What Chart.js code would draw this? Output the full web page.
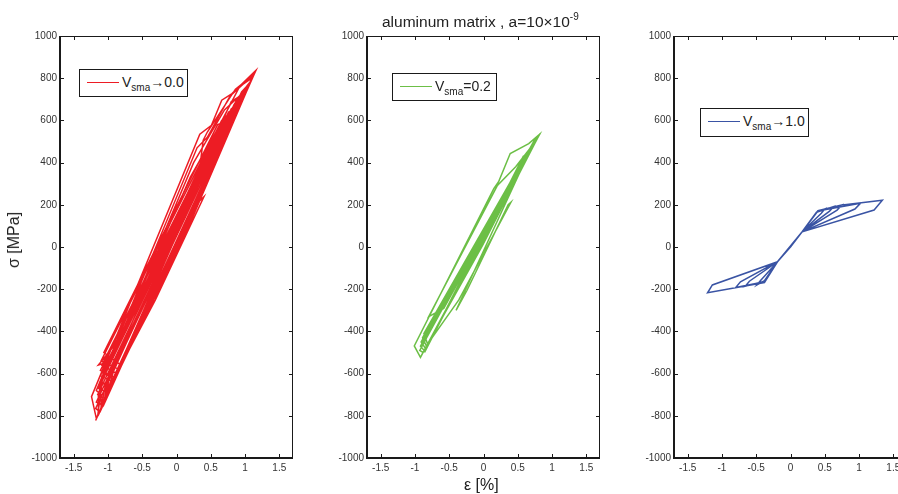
<!DOCTYPE html>
<html>
<head>
<meta charset="utf-8">
<script src="https://cdn.jsdelivr.net/npm/chart.js@4.4.1/dist/chart.umd.min.js"></script>
<style>
  html, body { margin:0; padding:0; background:#fff; }
  body { width:898px; height:494px; overflow:hidden; position:relative; font-family:"Liberation Sans", Arial, sans-serif; color:#222; }
  .panel { position:absolute; top:0; width:300px; height:494px; }
  .lgd { position:absolute; border:1px solid #1a1a1a; background:#fff; font-size:14px; box-sizing:border-box; white-space:nowrap; }
  .lgd .ln { position:absolute; left:7px; top:12px; width:32px; border-top:1.5px solid; }
  .lgd .tx { position:absolute; left:42px; top:4px; }
  .lgd sub { font-size:10px; vertical-align:-4px; }
  .ttl { position:absolute; font-size:15.5px; white-space:nowrap; }
  .ttl sup { font-size:10px; vertical-align:7px; }
  .axl { position:absolute; font-size:16px; white-space:nowrap; }
</style>
</head>
<body>
<div class="panel" style="left:0px"><canvas id="c1" width="300" height="494"></canvas></div>
<div class="panel" style="left:307px"><canvas id="c2" width="300" height="494"></canvas></div>
<div class="panel" style="left:614px"><canvas id="c3" width="300" height="494"></canvas></div>

<div class="ttl" style="left:382px; top:11px">aluminum matrix , a=10&times;10<sup>-9</sup></div>
<div class="axl" style="left:464px; top:476px">&epsilon; [%]</div>
<div class="axl" style="left:14px; top:240px; transform:translate(-50%,-50%) rotate(-90deg)">&sigma; [MPa]</div>

<div class="lgd" style="left:79px; top:69px; width:109px; height:28px"><span class="ln" style="border-color:#ed1c24"></span><span class="tx">V<sub>sma</sub>&rarr;0.0</span></div>
<div class="lgd" style="left:392px; top:73px; width:105px; height:28px"><span class="ln" style="border-color:#6cbf46"></span><span class="tx">V<sub>sma</sub>=0.2</span></div>
<div class="lgd" style="left:700px; top:108px; width:109px; height:29px"><span class="ln" style="border-color:#3a54a4"></span><span class="tx">V<sub>sma</sub>&rarr;1.0</span></div>

<script>
// axis ticks shared by the three panels
var xTicks = [-1.5, -1, -0.5, 0, 0.5, 1, 1.5];
var yTicks = [-1000, -800, -600, -400, -200, 0, 200, 400, 600, 800, 1000];

// V_sma -> 0.0  (strain %, stress MPa)
var redStrain = [-1.18, 1.16, 0.81, 0.66, 0.51, 0.34, -1.24, -1.17,
  1.13, 0.86, 0.45, 0.39, 0.34, -0.70, -0.92, -1.14, -1.05, -1.15,
  1.10, 0.92, 0.60, -1.09, -1.14, -1.14,
  0.02, 1.094, 1.03, -1.18, -1.121,
  1.12, 0.78, 0.45, 0.30, -1.17, -1.10, -1.10,
  1.03, 0.70, 0.25, -1.10, -1.02, -1.05,
  0.99, 0.60, 0.20, -1.05, -0.98, -1.02,
  0.05, 1.065, 0.98, -1.17, -1.078,
  0.03, 1.037, 0.93, -1.15, -1.036,
  0.06, 1.008, 0.89, -1.14, -0.994,
  0.02, 0.98, 0.85, -1.12, -0.952,
  0.07, 0.952, 0.80, -1.11, -0.923,
  0.04, 0.924, 0.76, -1.11, -0.895,
  0.08, 0.896, 0.72, -1.09, -0.867,
  0.05, 0.868, 0.66, -1.10, -0.839,
  0.03, 0.840, 0.60, -1.06, -0.810,
  -0.31, 0.40, 0.30, -0.62, -1.08,
  1.05, 0.95, -1.04, -1.11,
  1.00, 0.80, 0.28, -0.98, -1.06,
  0.98, -0.95, -1.04,
  0.96, 0.88, -0.92, -1.02,
  0.93, 0.84, -0.90, -1.00, 0.90];
var redStress = [-822, 837, 727, 696, 577, 535, -709, -812,
  818, 748, 545, 506, 380, -346, -472, -559, -550, -800,
  800, 760, 560, -640, -700, -790,
  0, 790, 765, -765, -780,
  815, 715, 520, 470, -680, -700, -770,
  750, 650, 400, -640, -650, -740,
  725, 560, 330, -600, -610, -700,
  0, 770, 745, -735, -750,
  10, 750, 720, -700, -720,
  20, 730, 700, -670, -690,
  -10, 710, 680, -640, -660,
  40, 690, 655, -610, -640,
  0, 670, 640, -585, -620,
  60, 650, 620, -560, -600,
  30, 630, 600, -540, -580,
  0, 610, 580, -500, -560,
  -252, 238, 206, -430, -740,
  770, 735, -660, -775,
  730, 690, 320, -600, -735,
  720, -640, -720,
  710, 700, -590, -700,
  690, 675, -610, -690, 670];

// V_sma = 0.2
var greenStrain = [-0.92, 0.82, 0.66, 0.39, 0.22, 0.15, -1.01, -0.92,
  0.78, 0.47, 0.20, -0.80, -0.58, 0.74,
  0.795, 0.74, -0.93, -0.882,
  -0.03, 0.763, 0.70, -0.92, -0.866,
  -0.02, 0.730, 0.66, -0.91, -0.849,
  -0.04, 0.697, 0.62, -0.89, -0.833,
  -0.01, 0.664, 0.58, -0.87, -0.816,
  -0.36, 0.40, 0.36, -0.24, -0.40,
  0.66, 0.58, -0.84, -0.86, 0.62];
var greenStress = [-523, 535, 490, 443, 309, 277, -469, -523,
  510, 380, 290, -330, -291, 490,
  520, 505, -490, -500,
  0, 500, 480, -470, -490,
  10, 480, 460, -450, -480,
  0, 460, 440, -430, -470,
  10, 440, 415, -410, -460,
  -251, 212, 200, -205, -300,
  445, 430, -485, -500, 440];

// V_sma -> 1.0
var blueStrain = [0, 0.17, 0.38, 0.50, 0.45, 0.17, -0.19, -0.38, -0.49, -0.44, -0.19,
  0.17, 0.38, 0.63, 0.57, 0.17, -0.19, -0.38, -0.66, -0.60, -0.19,
  0.17, 0.39, 0.75, 0.68, 0.17, -0.19, -0.38, -0.80, -0.73, -0.19,
  0.17, 0.40, 1.02, 0.94, 0.17, -0.19, -0.38, -1.21, -1.14, -0.19,
  0.17, 0.40, 0.73, 1.34, 1.22, 0.17, -0.19, 0];
var blueStress = [0, 72, 165, 180, 160, 72, -70, -160, -180, -160, -70,
  72, 165, 192, 170, 72, -70, -162, -186, -162, -70,
  72, 168, 199, 175, 72, -70, -165, -192, -165, -70,
  72, 170, 207, 180, 72, -70, -168, -217, -180, -70,
  72, 172, 198, 222, 175, 72, -70, 0];

function pts(xs, ys) {
  return xs.map(function(x, i) { return {x: x, y: ys[i]}; });
}

var tickFont = {family: "'Liberation Sans', Arial, sans-serif", size: 10};

// matlab style box with inward ticks
var boxPlugin = {
  id: 'box',
  afterDraw: function(chart) {
    var ctx = chart.ctx, a = chart.chartArea;
    var sx = chart.scales.x, sy = chart.scales.y;
    ctx.save();
    ctx.strokeStyle = '#1a1a1a';
    ctx.lineWidth = 1;
    ctx.beginPath();
    ctx.moveTo(a.left, a.top + 0.5); ctx.lineTo(a.right, a.top + 0.5);
    ctx.moveTo(a.right - 0.5, a.top); ctx.lineTo(a.right - 0.5, a.bottom);
    xTicks.forEach(function(v) {
      var p = Math.round(sx.getPixelForValue(v)) + 0.5;
      ctx.moveTo(p, a.bottom); ctx.lineTo(p, a.bottom - 4);
      ctx.moveTo(p, a.top); ctx.lineTo(p, a.top + 4);
    });
    yTicks.forEach(function(v) {
      var p = Math.round(sy.getPixelForValue(v)) + 0.5;
      ctx.moveTo(a.left, p); ctx.lineTo(a.left + 4, p);
      ctx.moveTo(a.right, p); ctx.lineTo(a.right - 4, p);
    });
    ctx.stroke();
    ctx.lineWidth = 2;
    ctx.beginPath();
    ctx.moveTo(a.left, a.top); ctx.lineTo(a.left, a.bottom); ctx.lineTo(a.right, a.bottom);
    ctx.stroke();
    ctx.restore();
  }
};

function makeChart(id, data, color) {
  return new Chart(document.getElementById(id).getContext('2d'), {
    type: 'scatter',
    data: {datasets: [{data: data, showLine: true, borderColor: color, borderWidth: 1.5,
      pointRadius: 0, tension: 0, fill: false}]},
    options: {
      responsive: false,
      animation: false,
      layout: {padding: {top: 36, right: 7, left: 0, bottom: 0}},
      plugins: {legend: {display: false}, tooltip: {enabled: false}},
      scales: {
        x: {
          type: 'linear', min: -1.7, max: 1.7,
          afterBuildTicks: function(s) { s.ticks = xTicks.map(function(v) { return {value: v}; }); },
          afterFit: function(s) { s.height = 36; },
          grid: {display: false, drawTicks: false},
          border: {display: false},
          ticks: {padding: 4, font: tickFont, color: '#333', maxRotation: 0,
            callback: function(v) { return String(v); }}
        },
        y: {
          type: 'linear', min: -1000, max: 1000,
          afterBuildTicks: function(s) { s.ticks = yTicks.map(function(v) { return {value: v}; }); },
          afterFit: function(s) { s.width = 60; },
          grid: {display: false, drawTicks: false},
          border: {display: false},
          ticks: {padding: 3, font: tickFont, color: '#333',
            callback: function(v) { return String(v); }}
        }
      }
    },
    plugins: [boxPlugin]
  });
}

makeChart('c1', pts(redStrain, redStress), '#ed1c24');
makeChart('c2', pts(greenStrain, greenStress), '#6cbf46');
makeChart('c3', pts(blueStrain, blueStress), '#3a54a4');
</script>
</body>
</html>
